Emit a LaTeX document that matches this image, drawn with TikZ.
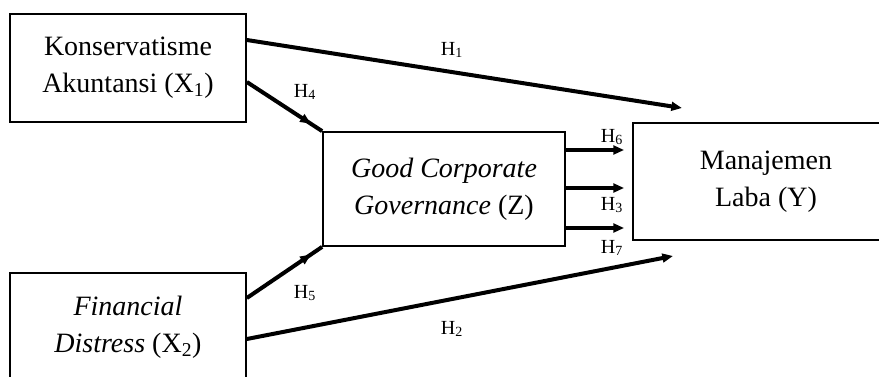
\documentclass[tikz,border=0pt]{standalone}
\usepackage{fontspec}
\setmainfont{Liberation Serif}
\usepackage{tikz}
\usetikzlibrary{arrows.meta,positioning,calc,decorations.markings}

\begin{document}
\begin{tikzpicture}[x=0.75pt,y=0.75pt,
  var/.style={draw,line width=1.3pt,align=center,inner sep=0pt,
    font=\fontsize{21}{27.5}\selectfont},
  path/.style={line width=3pt,-{Triangle[length=8pt,width=6.5pt]}},
  midarrow/.style={line width=3pt,decoration={markings,
    mark=at position 0.85 with {\arrow{Triangle[length=8pt,width=6.5pt]}}},postaction={decorate}},
  hyp/.style={font=\fontsize{15}{18}\selectfont}]
 \clip (0,0) rectangle (879,376);
 % variables
 \node[var,minimum width=177pt,minimum height=81pt] (x1) at (128,308) {Konservatisme\\Akuntansi (X\textsubscript{1})};
 \node[var,minimum width=177pt,minimum height=81pt] (x2) at (128,49) {\textit{Financial}\\\textit{Distress} (X\textsubscript{2})};
 \node[var,minimum width=181.5pt,minimum height=85.5pt] (z) at (444,187) {\textit{Good Corporate}\\\textit{Governance} (Z)};
 \node[var,minimum width=199.5pt,minimum height=87.75pt] (y) at (766,194.5) {Manajemen\\Laba (Y)};
 % direct paths
 \coordinate (h1end) at (682,268);
 \coordinate (h2end) at (673,120);
 \draw[path] ($(x1.east)+(0,28)$) -- (h1end);
 \draw[path] ($(x2.east)+(0,-12)$) -- (h2end);
 \draw[midarrow] ($(x1.east)+(0,-14)$) -- (z.north west);
 \draw[midarrow] ($(x2.east)+(0,29)$) -- (z.south west);
 \foreach \dy in {39,1,-39}
   \draw[path,line width=3.2pt] ($(z.east)+(0,\dy)$) -- ($(y.west|-{$(z.east)+(0,\dy)$})+(-8,0)$);
 % labels
 \foreach \n/\x/\y in {1/452/326, 4/305/284, 6/612/239, 3/612/171, 7/612/128, 5/305/83, 2/452/47}
   \node[hyp] (h\n) at (\x,\y) {H\textsubscript{\n}};
\end{tikzpicture}
\end{document}
